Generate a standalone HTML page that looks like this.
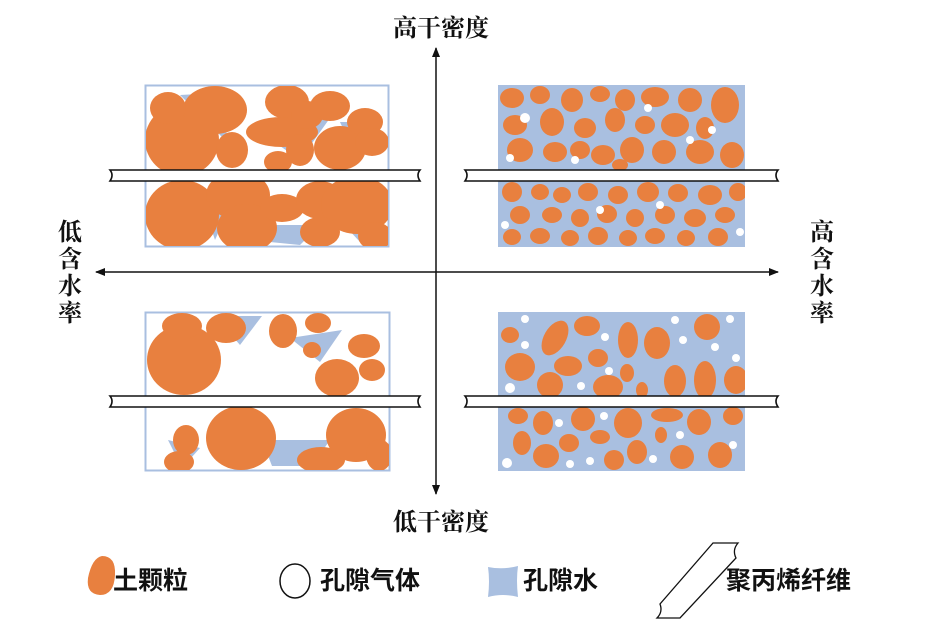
<!DOCTYPE html>
<html><head><meta charset="utf-8"><style>
html,body{margin:0;padding:0;background:#fff;width:929px;height:624px;overflow:hidden}
svg text{font-family:"Liberation Serif","Noto Serif CJK SC","Noto Sans CJK SC",serif;fill:#111}
</style></head><body>
<svg width="929" height="624" viewBox="0 0 929 624" xmlns="http://www.w3.org/2000/svg">
<defs>
<marker id="ah" markerWidth="10" markerHeight="10" refX="9" refY="5" orient="auto" markerUnits="userSpaceOnUse"><path d="M0,1 L10,5 L0,9 Z" fill="#111"/></marker>
<clipPath id="c1"><rect x="146" y="86" width="242" height="160"/></clipPath>
<clipPath id="c2"><rect x="498" y="85" width="247" height="162"/></clipPath>
<clipPath id="c3"><rect x="146" y="313" width="243" height="157"/></clipPath>
<clipPath id="c4"><rect x="498" y="312" width="247" height="159"/></clipPath>
</defs>

<!-- TL panel -->
<rect x="145.5" y="85.5" width="243" height="161" fill="#fff" stroke="#a9bfe0" stroke-width="2"/>
<g clip-path="url(#c1)" fill="#e8803f">
<g fill="#a9bfe0"><path d="M180,95 L235,92 L225,140 Z"/><path d="M250,125 L330,118 L300,160 Z"/><path d="M200,195 L235,195 L215,240 Z"/><path d="M255,225 L320,225 L300,245 L270,242Z"/><path d="M335,215 L362,212 L360,242Z"/><path d="M340,122 L368,122 L352,148Z"/></g>
<ellipse cx="182" cy="140" rx="37" ry="36"/><ellipse cx="215" cy="110" rx="32" ry="24"/><ellipse cx="168" cy="108" rx="18" ry="16"/>
<ellipse cx="232" cy="150" rx="16" ry="18"/><ellipse cx="287" cy="102" rx="22" ry="17"/><ellipse cx="282" cy="132" rx="36" ry="15"/>
<ellipse cx="307" cy="115" rx="16" ry="14"/><ellipse cx="330" cy="106" rx="20" ry="15"/><ellipse cx="340" cy="148" rx="26" ry="22"/>
<ellipse cx="365" cy="122" rx="18" ry="14"/><ellipse cx="372" cy="142" rx="17" ry="14"/><ellipse cx="300" cy="150" rx="14" ry="16"/><ellipse cx="278" cy="162" rx="14" ry="11"/>
<ellipse cx="182" cy="215" rx="37" ry="35"/><ellipse cx="238" cy="195" rx="32" ry="24"/><ellipse cx="247" cy="228" rx="30" ry="24"/>
<ellipse cx="282" cy="208" rx="22" ry="14"/><ellipse cx="320" cy="200" rx="24" ry="19"/><ellipse cx="357" cy="205" rx="36" ry="29"/>
<ellipse cx="320" cy="232" rx="20" ry="15"/><ellipse cx="375" cy="236" rx="17" ry="14"/>
</g>
<!-- TR panel -->
<rect x="498" y="85" width="247" height="162" fill="#a9bfe0"/>
<g clip-path="url(#c2)">
<g fill="#e8803f">
<ellipse cx="512" cy="98" rx="12" ry="10"/><ellipse cx="540" cy="95" rx="10" ry="9"/><ellipse cx="572" cy="100" rx="11" ry="12"/><ellipse cx="600" cy="94" rx="10" ry="8"/><ellipse cx="625" cy="100" rx="10" ry="11"/><ellipse cx="655" cy="97" rx="14" ry="10"/><ellipse cx="690" cy="100" rx="12" ry="12"/><ellipse cx="725" cy="105" rx="14" ry="18"/>
<ellipse cx="515" cy="125" rx="12" ry="10"/><ellipse cx="552" cy="122" rx="12" ry="14"/><ellipse cx="585" cy="128" rx="11" ry="10"/><ellipse cx="615" cy="120" rx="10" ry="12"/><ellipse cx="645" cy="125" rx="10" ry="9"/><ellipse cx="675" cy="125" rx="14" ry="12"/><ellipse cx="705" cy="128" rx="9" ry="11"/>
<ellipse cx="520" cy="150" rx="13" ry="12"/><ellipse cx="555" cy="152" rx="12" ry="10"/><ellipse cx="580" cy="150" rx="10" ry="9"/><ellipse cx="603" cy="155" rx="12" ry="10"/><ellipse cx="632" cy="150" rx="12" ry="13"/><ellipse cx="664" cy="152" rx="12" ry="12"/><ellipse cx="700" cy="152" rx="14" ry="12"/><ellipse cx="732" cy="155" rx="12" ry="13"/><ellipse cx="620" cy="165" rx="8" ry="6"/>
<ellipse cx="512" cy="192" rx="10" ry="10"/><ellipse cx="540" cy="192" rx="9" ry="8"/><ellipse cx="562" cy="195" rx="9" ry="8"/><ellipse cx="588" cy="192" rx="10" ry="9"/><ellipse cx="618" cy="195" rx="10" ry="9"/><ellipse cx="648" cy="192" rx="11" ry="10"/><ellipse cx="678" cy="193" rx="10" ry="9"/><ellipse cx="710" cy="195" rx="12" ry="10"/><ellipse cx="738" cy="192" rx="9" ry="9"/>
<ellipse cx="520" cy="215" rx="10" ry="9"/><ellipse cx="552" cy="215" rx="10" ry="8"/><ellipse cx="580" cy="218" rx="9" ry="9"/><ellipse cx="607" cy="214" rx="10" ry="9"/><ellipse cx="635" cy="218" rx="9" ry="9"/><ellipse cx="665" cy="215" rx="10" ry="9"/><ellipse cx="695" cy="218" rx="11" ry="9"/><ellipse cx="725" cy="215" rx="10" ry="8"/>
<ellipse cx="512" cy="237" rx="9" ry="8"/><ellipse cx="540" cy="236" rx="10" ry="8"/><ellipse cx="570" cy="238" rx="9" ry="8"/><ellipse cx="598" cy="236" rx="10" ry="9"/><ellipse cx="628" cy="238" rx="9" ry="8"/><ellipse cx="655" cy="236" rx="10" ry="8"/><ellipse cx="686" cy="238" rx="9" ry="8"/><ellipse cx="718" cy="237" rx="10" ry="9"/>
</g>
<g fill="#fff"><circle cx="525" cy="118" r="5"/><circle cx="648" cy="108" r="4"/><circle cx="712" cy="130" r="4"/><circle cx="510" cy="158" r="4"/><circle cx="690" cy="140" r="4"/><circle cx="575" cy="160" r="4"/><circle cx="600" cy="210" r="4"/><circle cx="660" cy="205" r="4"/><circle cx="505" cy="225" r="4"/><circle cx="740" cy="232" r="4"/></g>
</g>
<!-- BL panel -->
<rect x="145.5" y="312.5" width="244" height="158" fill="#fff" stroke="#a9bfe0" stroke-width="2"/>
<g clip-path="url(#c3)" fill="#e8803f">
<g fill="#a9bfe0"><path d="M215,316 L262,316 L240,345Z"/><path d="M290,338 L342,330 L320,362Z"/><path d="M330,362 L356,368 L345,392Z"/><path d="M168,440 L200,448 L182,468Z"/><path d="M262,440 L330,440 L312,466 L272,466Z"/></g>
<ellipse cx="184" cy="360" rx="37" ry="35"/><ellipse cx="226" cy="328" rx="20" ry="15"/><ellipse cx="182" cy="326" rx="20" ry="13"/>
<ellipse cx="283" cy="331" rx="14" ry="17"/><ellipse cx="318" cy="323" rx="13" ry="10"/><ellipse cx="312" cy="350" rx="9" ry="8"/>
<ellipse cx="337" cy="378" rx="22" ry="19"/><ellipse cx="364" cy="346" rx="16" ry="12"/><ellipse cx="372" cy="370" rx="13" ry="11"/>
<ellipse cx="186" cy="440" rx="13" ry="15"/><ellipse cx="179" cy="462" rx="15" ry="11"/><ellipse cx="241" cy="438" rx="35" ry="32"/>
<ellipse cx="321" cy="460" rx="24" ry="13"/><ellipse cx="356" cy="435" rx="30" ry="27"/><ellipse cx="379" cy="455" rx="13" ry="16"/>
</g>
<!-- BR panel -->
<rect x="498" y="312" width="247" height="159" fill="#a9bfe0"/>
<g clip-path="url(#c4)">
<g fill="#e8803f">
<ellipse cx="510" cy="335" rx="9" ry="8"/><ellipse cx="555" cy="338" rx="11" ry="19" transform="rotate(30 555 338)"/><ellipse cx="587" cy="326" rx="13" ry="10"/><ellipse cx="628" cy="340" rx="10" ry="18"/><ellipse cx="657" cy="343" rx="13" ry="16"/><ellipse cx="707" cy="327" rx="13" ry="13"/>
<ellipse cx="520" cy="367" rx="15" ry="14"/><ellipse cx="568" cy="366" rx="14" ry="10"/><ellipse cx="598" cy="358" rx="10" ry="9"/><ellipse cx="627" cy="373" rx="7" ry="9"/><ellipse cx="675" cy="381" rx="11" ry="16"/><ellipse cx="705" cy="380" rx="11" ry="19"/><ellipse cx="736" cy="380" rx="12" ry="14"/><ellipse cx="550" cy="385" rx="13" ry="13"/><ellipse cx="608" cy="387" rx="15" ry="12"/><ellipse cx="642" cy="390" rx="6" ry="8"/>
<ellipse cx="518" cy="416" rx="10" ry="8"/><ellipse cx="543" cy="423" rx="10" ry="12"/><ellipse cx="583" cy="419" rx="12" ry="12"/><ellipse cx="628" cy="423" rx="14" ry="15"/><ellipse cx="667" cy="415" rx="16" ry="7"/><ellipse cx="699" cy="422" rx="12" ry="13"/><ellipse cx="733" cy="416" rx="10" ry="9"/>
<ellipse cx="522" cy="443" rx="9" ry="12"/><ellipse cx="569" cy="443" rx="10" ry="9"/><ellipse cx="600" cy="437" rx="10" ry="7"/><ellipse cx="661" cy="435" rx="6" ry="8"/><ellipse cx="637" cy="452" rx="10" ry="12"/><ellipse cx="546" cy="456" rx="13" ry="12"/><ellipse cx="614" cy="460" rx="10" ry="10"/><ellipse cx="682" cy="457" rx="12" ry="12"/><ellipse cx="720" cy="455" rx="12" ry="13"/>
</g>
<g fill="#fff"><circle cx="525" cy="319" r="4"/><circle cx="605" cy="337" r="4"/><circle cx="525" cy="345" r="4"/><circle cx="675" cy="320" r="4"/><circle cx="683" cy="340" r="4"/><circle cx="715" cy="347" r="4"/><circle cx="730" cy="319" r="4"/><circle cx="736" cy="358" r="4"/><circle cx="609" cy="371" r="4"/><circle cx="581" cy="386" r="4"/><circle cx="510" cy="388" r="5"/><circle cx="559" cy="423" r="4"/><circle cx="604" cy="416" r="4"/><circle cx="680" cy="435" r="4"/><circle cx="733" cy="445" r="4"/><circle cx="507" cy="463" r="5"/><circle cx="570" cy="464" r="4"/><circle cx="590" cy="461" r="4"/><circle cx="653" cy="459" r="4"/></g>
</g>

<!-- fibers -->
<g fill="#fff" stroke="#111" stroke-width="1.6">
<path d="M110,170 H420 Q416,175 420,181 H110 Q114,175 110,170Z"/>
<path d="M465,170 H778 Q774,175 778,181 H465 Q469,175 465,170Z"/>
<path d="M110,396 H420 Q416,401 420,407 H110 Q114,401 110,396Z"/>
<path d="M465,396 H778 Q774,401 778,407 H465 Q469,401 465,396Z"/>
</g>

<!-- axes -->
<g stroke="#111" stroke-width="1.5" fill="none">
<line x1="436" y1="272" x2="436" y2="48" marker-end="url(#ah)"/>
<line x1="436" y1="272" x2="436" y2="494" marker-end="url(#ah)"/>
<line x1="436" y1="272" x2="778" y2="272" marker-end="url(#ah)"/>
<line x1="436" y1="272" x2="96" y2="272" marker-end="url(#ah)"/>
</g>

<g font-size="24" font-weight="bold">
<text x="441" y="36" text-anchor="middle">高干密度</text>
<text x="441" y="530" text-anchor="middle">低干密度</text>
<text x="70" y="240" text-anchor="middle">低</text><text x="70" y="267" text-anchor="middle">含</text><text x="70" y="294" text-anchor="middle">水</text><text x="70" y="321" text-anchor="middle">率</text>
<text x="822" y="240" text-anchor="middle">高</text><text x="822" y="267" text-anchor="middle">含</text><text x="822" y="294" text-anchor="middle">水</text><text x="822" y="321" text-anchor="middle">率</text>
</g>

<!-- legend -->
<path d="M102,556 Q116,556 115,575 Q114,595 100,595 Q86,594 88,578 Q92,558 102,556Z" fill="#e8803f"/>
<text x="113" y="589" font-size="25" font-weight="bold" style="font-family:'Liberation Sans','Noto Sans CJK SC',sans-serif">土颗粒</text>
<ellipse cx="295" cy="581" rx="15" ry="17" fill="none" stroke="#111" stroke-width="1.5"/>
<text x="320" y="589" font-size="25" font-weight="bold" style="font-family:'Liberation Sans','Noto Sans CJK SC',sans-serif">孔隙气体</text>
<path d="M488,567 Q503,570 518,566 Q516,580 518,597 Q503,593 488,597 Q490,581 488,567Z" fill="#a9bfe0"/>
<text x="523" y="589" font-size="25" font-weight="bold" style="font-family:'Liberation Sans','Noto Sans CJK SC',sans-serif">孔隙水</text>
<path d="M713,543 L738,543 Q732,550 736,558 L680,618 L657,618 Q663,612 660,604 Z" fill="#fff" stroke="#111" stroke-width="1.3"/>
<text x="726" y="589" font-size="25" font-weight="bold" style="font-family:'Liberation Sans','Noto Sans CJK SC',sans-serif">聚丙烯纤维</text>
</svg>
</body></html>
